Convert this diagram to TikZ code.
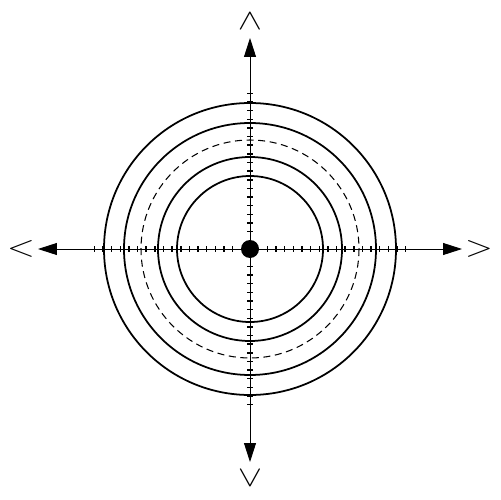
\documentclass[tikz,border=0pt]{standalone}
\usetikzlibrary{arrows.meta,calc}
\begin{document}
\begin{tikzpicture}[x=0.02cm,y=-0.02cm,
  ring/.style={line width=1pt},
  dring/.style={line width=0.6pt,dash pattern=on 4pt off 2.6pt},
  axis/.style={line width=0.5pt,-{Triangle[length=0.38cm,width=0.24cm]}},
  tick/.style={line width=0.8pt},
  chev/.style={font=\fontsize{17}{17}\selectfont,inner sep=0pt}]
\useasboundingbox (0,0) rectangle (500,500);
\coordinate (c) at (250,249);
\coordinate (L) at (38,249);
\coordinate (R) at (462,249);
\coordinate (T) at (250,38);
\coordinate (B) at (250,462);
% rings
\draw[ring] (c) circle[radius=146];
\draw[ring] (c) circle[radius=126];
\draw[dring] (c) circle[radius=109];
\draw[ring] (c) circle[radius=92];
\draw[ring] (c) circle[radius=73];
% axes
\draw[axis] (c) -- (L);
\draw[axis] (c) -- (R);
\draw[axis] (c) -- (T);
\draw[axis] (c) -- (B);
% ticks
\foreach \i in {2,...,18}{
  \pgfmathsetmacro{\d}{8.65*\i}
  \draw[tick] ($(c)+(\d,-3)$) -- ($(c)+(\d,3)$);
  \draw[tick] ($(c)+(-\d,-3)$) -- ($(c)+(-\d,3)$);
  \draw[tick] ($(c)+(-3,\d)$) -- ($(c)+(3,\d)$);
  \draw[tick] ($(c)+(-3,-\d)$) -- ($(c)+(3,-\d)$);
}
% centre dot
\fill (c) circle[radius=9];
% chevrons
\node[chev,xscale=1.2] (cl) at (21,249) {$<$};
\node[chev,xscale=1.2] (cr) at (479,249) {$>$};
\node[chev,xscale=1.2,rotate=-90] (ct) at (250,21) {$<$};
\node[chev,xscale=1.2,rotate=90] (cb) at (250,478) {$<$};
\end{tikzpicture}
\end{document}
